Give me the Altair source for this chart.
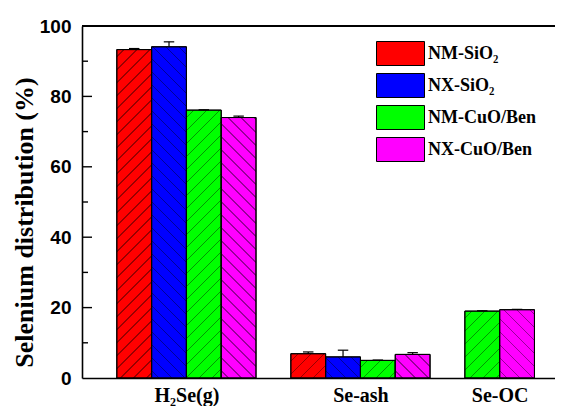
import math
import altair as alt
import pandas as pd

# ---- data ----
categories = ["H₂Se(g)", "Se-ash", "Se-OC"]
series = ["NM-SiO₂", "NX-SiO₂", "NM-CuO/Ben", "NX-CuO/Ben"]
colors = ["#FF0000", "#0000FF", "#00FF00", "#FF00FF"]
hatch_dir = ["/", "\\", "/", "\\"]
# values[series][category]; None = no bar
values = {
    "NM-SiO₂": [93.3, 6.9, None],
    "NX-SiO₂": [94.1, 6.0, None],
    "NM-CuO/Ben": [76.1, 5.0, 19.0],
    "NX-CuO/Ben": [74.0, 6.7, 19.4],
}
errors = {
    "NM-SiO₂": [0.3, 0.5, None],
    "NX-SiO₂": [1.4, 1.9, None],
    "NM-CuO/Ben": [0.1, 0.1, 0.1],
    "NX-CuO/Ben": [0.4, 0.5, 0.1],
}
y_major = [0, 20, 40, 60, 80, 100]
y_minor = [10, 30, 50, 70, 90]

# ---- layout constants ----
PLOT_W = 473
PLOT_H = 352
X_MAX = 13.59
GROUP_STEP = 5
UNIT_PX = PLOT_W / X_MAX
Y_PX = PLOT_H / 100.0
SERIF = "Liberation Serif"
SANS = "Liberation Sans"
MAJOR_LEN = 10 / UNIT_PX
MINOR_LEN = 6 / UNIT_PX

rows = []
label_pos = []
for g, cat in enumerate(categories):
    start = 1 + GROUP_STEP * g
    slot = 0
    for s, name in enumerate(series):
        v = values[name][g]
        if v is None:
            continue
        e = errors[name][g]
        x0 = start + slot
        rows.append(dict(id=len(rows), category=cat, series=name, s=s,
                         x0=x0, x1=x0 + 1, xc=x0 + 0.5,
                         cl=x0 + 0.5 - 0.15, cr=x0 + 0.5 + 0.15,
                         value=v, base0=0.0, top=v + e))
        slot += 1
    label_pos.append(start + slot / 2.0)

df = pd.DataFrame(rows)
ticks_df = pd.DataFrame(
    [dict(v=t, x0=0.0, x1=MAJOR_LEN) for t in y_major if 0 < t < 100]
    + [dict(v=t, x0=0.0, x1=MINOR_LEN) for t in y_minor]
)

label_expr = ""
for pos, cat in zip(label_pos, categories):
    label_expr += f"datum.value == {pos} ? '{cat}' : "
label_expr += "''"

xscale = alt.Scale(domain=[0, X_MAX], nice=False, zero=False)
yscale = alt.Scale(domain=[0, 100], nice=False)

x_axis = alt.Axis(values=label_pos, labelExpr=label_expr, ticks=False, grid=False,
                  title=None, domainColor="black", domainWidth=1.6,
                  labelFont=SERIF, labelFontWeight="bold", labelFontSize=20,
                  labelColor="black", labelPadding=7, labelOverlap=False)
y_axis = alt.Axis(values=y_major, grid=False, ticks=False,
                  domainColor="black", domainWidth=1.6,
                  labelFont=SANS, labelFontWeight="bold", labelFontSize=19,
                  labelColor="black", labelPadding=11, labelOverlap=False,
                  title="Selenium distribution (%)", titleFont=SERIF,
                  titleFontWeight="bold", titleFontSize=26, titleColor="black",
                  titleX=-50, titleY=PLOT_H / 2 + 20, titleBaseline="alphabetic",
                  titleAngle=270, titleAlign="center")

base = alt.Chart(df)

SYM = 24  # legend swatch height in px
bars = base.mark_bar(stroke="black", strokeWidth=1, opacity=1).encode(
    x=alt.X("x0:Q", scale=xscale, axis=x_axis),
    x2="x1:Q",
    y=alt.Y("value:Q", scale=yscale, axis=y_axis),
    y2="base0:Q",
    color=alt.Color("series:N",
                    scale=alt.Scale(domain=series, range=colors),
                    sort=series,
                    legend=alt.Legend(
                        title=None, orient="none", legendX=294 + SYM // 2, legendY=15,
                        symbolType="M-2,-1H2V1H-2Z", symbolSize=SYM * SYM,
                        symbolStrokeColor="black", symbolStrokeWidth=1,
                        symbolOpacity=1, labelFont=SERIF, labelFontWeight="bold",
                        labelFontSize=18, labelColor="black", labelOffset=SYM // 2 + 3,
                        rowPadding=3, padding=0)),
)


def hatch_gradient(w, h, direction, period=13.0, line=1.4, dark="rgba(0,0,0,0.4)"):
    span = w + h
    k = span / (w * w + h * h)
    if direction == "/":
        x1, y1, x2, y2 = 0, 0, w * k, h * k
    else:
        x1, y1, x2, y2 = 0, 1, w * k, 1 - h * k
    stops = []
    clear = "rgba(0,0,0,0)"
    n = int(math.ceil(span / period)) + 1
    for i in range(n):
        a = (i * period + period / 2) / span
        b = a + line / span
        if a >= 1:
            break
        b = min(b, 1.0)
        stops += [dict(offset=a, color=clear), dict(offset=a, color=dark),
                  dict(offset=b, color=dark), dict(offset=b, color=clear)]
    return dict(gradient="linear", x1=x1, y1=y1, x2=x2, y2=y2, stops=stops)


hatch_layers = []
for r in rows:
    grad = hatch_gradient(UNIT_PX, r["value"] * Y_PX, hatch_dir[r["s"]])
    hatch_layers.append(
        base.transform_filter(alt.datum.id == r["id"]).mark_bar(
            fill=grad, stroke="black", strokeWidth=1).encode(
            x=alt.X("x0:Q", scale=xscale), x2="x1:Q",
            y=alt.Y("value:Q", scale=yscale), y2="base0:Q")
    )

err_line = base.mark_rule(color="black", strokeWidth=1.2).encode(
    x=alt.X("xc:Q", scale=xscale), y=alt.Y("value:Q", scale=yscale), y2="top:Q")
err_cap = base.mark_rule(color="black", strokeWidth=1.2).encode(
    x=alt.X("cl:Q", scale=xscale), x2="cr:Q", y=alt.Y("top:Q", scale=yscale))

tick_marks = alt.Chart(ticks_df).mark_rule(color="black", strokeWidth=1.4).encode(
    x=alt.X("x0:Q", scale=xscale), x2="x1:Q", y=alt.Y("v:Q", scale=yscale))

top_line = alt.Chart(df).mark_rule(color="black", strokeWidth=1.6).encode(
    y=alt.datum(100, scale=yscale))

chart = alt.layer(bars, *hatch_layers, err_line, err_cap, tick_marks, top_line).properties(
    width=PLOT_W, height=PLOT_H,
    autosize=alt.AutoSizeParams(type="none"),
    padding={"left": 74, "top": 18, "right": 0, "bottom": 28},
).configure_view(stroke=None).configure(background="white")

chart.save("out.html", embed_options={"renderer": "svg", "actions": False})
